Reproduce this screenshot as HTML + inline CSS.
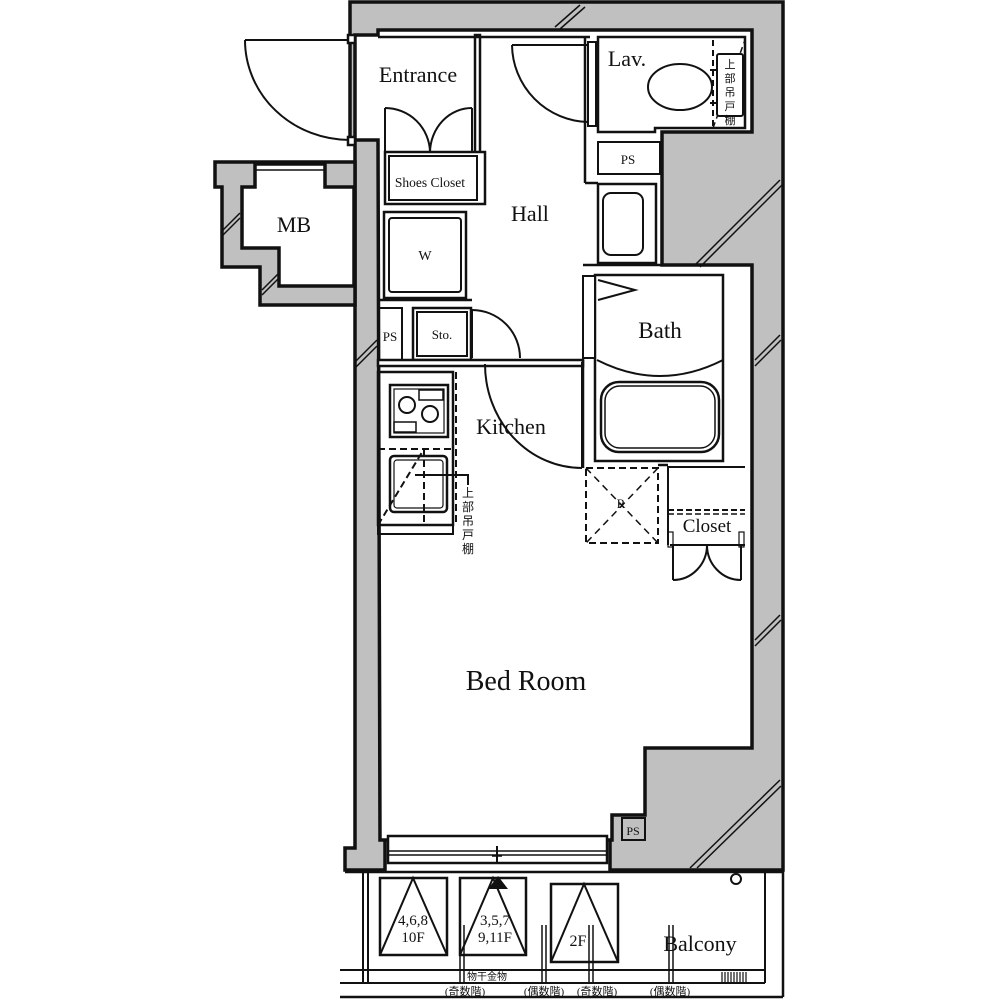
<!DOCTYPE html>
<html><head><meta charset="utf-8"><style>
html,body{margin:0;padding:0;background:#fff;}
svg{display:block;}
text{font-family:"Liberation Serif","Noto Serif CJK SC",serif;fill:#111;}
.j{font-family:"Liberation Serif","Noto Sans CJK JP",sans-serif;}
</style></head><body>
<svg width="1000" height="1000" viewBox="0 0 1000 1000" xmlns="http://www.w3.org/2000/svg">
<g stroke="#111" stroke-width="2.5" fill="none">
<polygon points="350,2 783,2 783,870 610,870 610,835 385,835 385,870 345,870 345,848 355,848 355,140 350,140" fill="#c0c0c0" stroke-width="3.5"/>
<polygon points="378,30 752,30 752,132 662,132 662,265 752,265 752,748 645,748 645,815 612,815 612,840 380,840 378,140 355,140 355,35 378,35" fill="#fff" stroke-width="3.5"/>
<polygon points="215,162 355,162 355,305 260,305 260,267 222,267 222,187 215,187" fill="#c0c0c0" stroke-width="3.5"/>
<polygon points="242,187 255,187 255,164 325,164 325,187 354,187 354,286 279,286 279,248 242,248" fill="#fff" stroke-width="3.5"/>
<line x1="255" y1="170" x2="325" y2="170" stroke-width="1.5"/>
<g stroke-width="1.5">
<path d="M555,27 L580,5 M560,29 L585,7"/>
<path d="M695,265 L780,180 M700,267 L782,185"/>
<path d="M755,360 L780,335 M755,366 L781,340"/>
<path d="M755,640 L780,615 M755,646 L781,620"/>
<path d="M690,868 L780,780 M697,868 L781,786"/>
<path d="M355,362 L377,340 M355,368 L377,346"/>
<path d="M223,230 L240,213 M223,235 L240,218"/>
<path d="M262,290 L278,274 M262,295 L278,279"/>
</g>
<line x1="245" y1="40" x2="350" y2="40" stroke-width="2"/>
<path d="M245,40 A105,100 0 0 0 350,140" stroke-width="2"/>
<rect x="348" y="35" width="7" height="8" fill="#fff"/>
<rect x="348" y="137" width="7" height="8" fill="#fff"/>
<rect x="475" y="35" width="5" height="118" fill="#fff"/>
<line x1="378" y1="37" x2="590" y2="37"/>
<rect x="385" y="152" width="100" height="52" fill="#fff" stroke-width="2.5"/>
<rect x="389" y="156" width="88" height="44" stroke-width="2"/>
<line x1="385" y1="108" x2="385" y2="152" stroke-width="2"/>
<line x1="472" y1="108" x2="472" y2="152" stroke-width="2"/>
<path d="M385,108 A45,45 0 0 1 430,152 M472,108 A42,45 0 0 0 430,152" stroke-width="2"/>
<rect x="384" y="212" width="82" height="86" stroke-width="2.5"/>
<rect x="389" y="218" width="72" height="74" rx="3" stroke-width="2"/>
<line x1="378" y1="300" x2="472" y2="300"/>
<rect x="378" y="308" width="24" height="54" stroke-width="2"/>
<rect x="413" y="308" width="58" height="52" stroke-width="2.5"/>
<rect x="417" y="312" width="50" height="44" stroke-width="2"/>
<line x1="472" y1="310" x2="472" y2="358" stroke-width="2"/>
<path d="M472,310 A48,48 0 0 1 520,358" stroke-width="2"/>
<rect x="378" y="360" width="205" height="6" fill="#fff"/>
<line x1="585" y1="37" x2="585" y2="183"/>
<line x1="585" y1="183" x2="598" y2="183"/>
<rect x="588" y="42" width="8" height="84" fill="#fff" stroke-width="2"/>
<line x1="512" y1="45" x2="588" y2="45" stroke-width="2"/>
<path d="M512,45 A78,78 0 0 0 588,122" stroke-width="2"/>
<path d="M598,37 L745,37 L745,128 L655,128 L655,132 L598,132 Z" stroke-width="2.5"/>
<ellipse cx="680" cy="87" rx="32" ry="23" stroke-width="2"/>
<path d="M710,70 L718,70 M710,103 L718,103" stroke-width="2"/>
<line x1="713" y1="40" x2="713" y2="128" stroke-dasharray="6,4" stroke-width="2"/>
<line x1="713" y1="128" x2="745" y2="40" stroke-dasharray="6,4" stroke-width="1.5"/>
<rect x="717" y="54" width="26" height="62" rx="2" fill="#fff" stroke-width="2"/>
<rect x="598" y="142" width="62" height="32" stroke-width="2"/>
<rect x="598" y="184" width="58" height="79" stroke-width="2.5"/>
<rect x="603" y="193" width="40" height="62" rx="8" stroke-width="2"/>
<path d="M583,265 L752,265" stroke-width="2.5"/>
<rect x="595" y="275" width="128" height="186" stroke-width="2.5"/>
<rect x="583" y="276" width="12" height="82" fill="#fff" stroke-width="2"/>
<line x1="583" y1="360" x2="583" y2="468" stroke-width="2.5"/>
<path d="M598,280 L635,290 L598,300" stroke-width="2"/>
<path d="M597,360 Q660,392 723,360" stroke-width="2"/>
<rect x="601" y="382" width="118" height="70" rx="18" stroke-width="2.5"/>
<rect x="605" y="386" width="110" height="62" rx="15" stroke-width="1.5"/>
<line x1="582" y1="362" x2="582" y2="468" stroke-width="2"/>
<path d="M485,364 A97,104 0 0 0 582,468" stroke-width="2"/>
<rect x="378" y="372" width="75" height="153" stroke-width="2.5"/>
<rect x="378" y="525" width="75" height="9" stroke-width="2"/>
<rect x="390" y="385" width="58" height="52" stroke-width="2.5"/>
<rect x="394" y="389" width="50" height="44" stroke-width="1.2"/>
<circle cx="407" cy="405" r="8" stroke-width="2"/>
<circle cx="430" cy="414" r="8" stroke-width="2"/>
<rect x="419" y="390" width="24" height="10" stroke-width="1.5"/>
<rect x="394" y="422" width="22" height="10" stroke-width="1.5"/>
<line x1="456" y1="372" x2="456" y2="525" stroke-dasharray="7,4" stroke-width="2"/>
<line x1="378" y1="449" x2="453" y2="449" stroke-dasharray="7,4" stroke-width="2"/>
<rect x="390" y="456" width="57" height="56" rx="4" stroke-width="2.5"/>
<rect x="394" y="460" width="49" height="48" rx="3" stroke-width="1.2"/>
<line x1="424" y1="449" x2="424" y2="525" stroke-dasharray="7,4" stroke-width="2"/>
<line x1="378" y1="525" x2="424" y2="449" stroke-dasharray="7,4" stroke-width="2"/>
<path d="M415,475 L468,475 L468,485" stroke-width="2"/>
<rect x="586" y="468" width="72" height="75" stroke-dasharray="7,4" stroke-width="2"/>
<path d="M586,468 L658,543 M658,468 L586,543" stroke-dasharray="7,5" stroke-width="1.5"/>
<line x1="658" y1="465" x2="668" y2="465"/>
<path d="M668,545 L668,467 L745,467" stroke-width="2"/>
<line x1="668" y1="510" x2="745" y2="510" stroke-dasharray="6,3" stroke-width="2"/>
<line x1="668" y1="514" x2="745" y2="514" stroke-dasharray="6,3" stroke-width="1.5"/>
<rect x="668" y="532" width="5" height="15" stroke-width="1.2"/>
<rect x="739" y="532" width="5" height="15" stroke-width="1.2"/>
<line x1="670" y1="545" x2="745" y2="545" stroke-width="2"/>
<line x1="673" y1="545" x2="673" y2="580" stroke-width="2"/>
<line x1="741" y1="545" x2="741" y2="580" stroke-width="2"/>
<path d="M673,580 A34,35 0 0 0 707,545 M741,580 A34,35 0 0 1 707,545" stroke-width="2"/>
<rect x="622" y="818" width="23" height="22" stroke-width="2"/>
<rect x="388" y="836" width="219" height="27" fill="#fff" stroke-width="2.5"/>
<line x1="388" y1="851" x2="607" y2="851" stroke-width="1.5"/>
<line x1="388" y1="855" x2="607" y2="855" stroke-width="1.5"/>
<line x1="497" y1="846" x2="497" y2="862" stroke-width="2"/>
<line x1="492" y1="856" x2="502" y2="856" stroke-width="1.5"/>
<line x1="345" y1="872" x2="783" y2="872" stroke-width="2.5"/>
<line x1="783" y1="870" x2="783" y2="997" stroke-width="2.5"/>
<line x1="765" y1="872" x2="765" y2="983" stroke-width="2"/>
<line x1="363" y1="872" x2="363" y2="983" stroke-width="2"/>
<line x1="368" y1="872" x2="368" y2="983" stroke-width="2"/>
<line x1="340" y1="970" x2="765" y2="970" stroke-width="2"/>
<line x1="340" y1="983" x2="765" y2="983" stroke-width="2"/>
<line x1="340" y1="997" x2="783" y2="997" stroke-width="2.5"/>
<circle cx="736" cy="879" r="5" stroke-width="2"/>
<g stroke-width="1.2"><path d="M722,972v10M725,972v10M728,972v10M731,972v10M734,972v10M737,972v10M740,972v10M743,972v10M746,972v10"/></g>
<rect x="380" y="878" width="67" height="77" stroke-width="2.5"/>
<path d="M380,955 L413,878 L447,955" stroke-width="2"/>
<rect x="460" y="878" width="66" height="77" stroke-width="2.5"/>
<path d="M460,955 L493,878 L526,955" stroke-width="2"/>
<polygon points="498,876 488,889 508,889" fill="#111" stroke="none"/>
<rect x="551" y="884" width="67" height="78" stroke-width="2.5"/>
<path d="M551,962 L584,884 L618,962" stroke-width="2"/>
<g stroke-width="1.5">
<path d="M460,925v58 M464,925v58"/>
<path d="M542,925v58 M546,925v58"/>
<path d="M589,925v58 M593,925v58"/>
<path d="M669,925v58 M673,925v58"/>
</g>
</g>
<text x="418" y="82" font-size="22" text-anchor="middle">Entrance</text>
<text x="530" y="221" font-size="22" text-anchor="middle">Hall</text>
<text x="627" y="66" font-size="22" text-anchor="middle">Lav.</text>
<text x="294" y="232" font-size="22" text-anchor="middle">MB</text>
<text x="430" y="187" font-size="13.5" text-anchor="middle">Shoes Closet</text>
<text x="425" y="260" font-size="14" text-anchor="middle">W</text>
<text x="390" y="341" font-size="13" text-anchor="middle">PS</text>
<text x="442" y="339" font-size="13" text-anchor="middle">Sto.</text>
<text x="628" y="164" font-size="13" text-anchor="middle">PS</text>
<text x="660" y="338" font-size="23" text-anchor="middle">Bath</text>
<text x="511" y="434" font-size="22" text-anchor="middle">Kitchen</text>
<text x="621" y="508" font-size="13" text-anchor="middle">R</text>
<text x="707" y="532" font-size="19" text-anchor="middle">Closet</text>
<text x="526" y="690" font-size="28" text-anchor="middle">Bed Room</text>
<text x="633" y="835" font-size="12" text-anchor="middle">PS</text>
<text class="j" x="730" y="68" font-size="11" text-anchor="middle">上</text>
<text class="j" x="730" y="82" font-size="11" text-anchor="middle">部</text>
<text class="j" x="730" y="96" font-size="11" text-anchor="middle">吊</text>
<text class="j" x="730" y="110" font-size="11" text-anchor="middle">戸</text>
<text class="j" x="730" y="124" font-size="11" text-anchor="middle">棚</text>
<text class="j" x="468" y="497" font-size="12" text-anchor="middle">上</text>
<text class="j" x="468" y="511" font-size="12" text-anchor="middle">部</text>
<text class="j" x="468" y="525" font-size="12" text-anchor="middle">吊</text>
<text class="j" x="468" y="539" font-size="12" text-anchor="middle">戸</text>
<text class="j" x="468" y="553" font-size="12" text-anchor="middle">棚</text>
<text x="413" y="925" font-size="15" text-anchor="middle">4,6,8</text>
<text x="413" y="942" font-size="15" text-anchor="middle">10F</text>
<text x="495" y="925" font-size="15" text-anchor="middle">3,5,7</text>
<text x="495" y="942" font-size="15" text-anchor="middle">9,11F</text>
<text x="578" y="946" font-size="16" text-anchor="middle">2F</text>
<text x="700" y="951" font-size="22" text-anchor="middle">Balcony</text>
<text class="j" x="487" y="980" font-size="10" text-anchor="middle">物干金物</text>
<text class="j" x="465" y="995" font-size="11" text-anchor="middle">(奇数階)</text>
<text class="j" x="544" y="995" font-size="11" text-anchor="middle">(偶数階)</text>
<text class="j" x="597" y="995" font-size="11" text-anchor="middle">(奇数階)</text>
<text class="j" x="670" y="995" font-size="11" text-anchor="middle">(偶数階)</text>
</svg>
</body></html>
